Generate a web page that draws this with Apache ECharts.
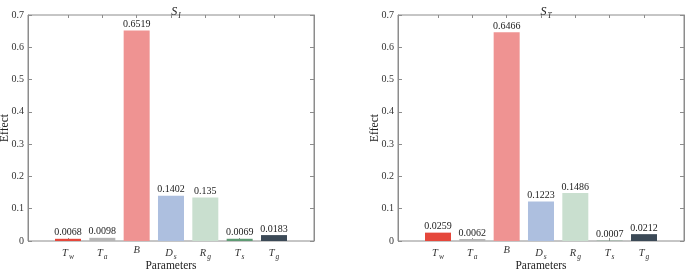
<!DOCTYPE html>
<html>
<head>
<meta charset="utf-8">
<script src="https://cdn.jsdelivr.net/npm/echarts@6/dist/echarts.min.js"></script>
<style>
  html, body { margin: 0; padding: 0; background: #fff; }
  #chart { width: 685px; height: 270px; }
</style>
</head>
<body>
<div id="chart"></div>
<script>
// parameter names: main letter + subscript
var paramMain = ['T', 'T', 'B', 'D', 'R', 'T', 'T'];
var paramSub = ['w', 'a', '', 's', 'g', 's', 'g'];
var barColors = ['#e5473b', '#b5b5b5', '#ef9392', '#adbfdf', '#c9dfcf', '#5f9b74', '#3b4956'];

var firstOrder = [0.0068, 0.0098, 0.6519, 0.1402, 0.135, 0.0069, 0.0183];
var totalOrder = [0.0259, 0.0062, 0.6466, 0.1223, 0.1486, 0.0007, 0.0212];

var serif = "'Liberation Serif', 'Times New Roman', serif";
var frameColor = '#8c8c8c';

var categories = paramMain.map(function (m, i) { return i; });

function catLabel(i) {
    var s = paramSub[i];
    return '{m|' + paramMain[i] + '}' + (s ? '{s|' + s + '}' : '');
}

var chart = echarts.init(document.getElementById('chart'));

// two panels; each has a frame grid (box + y axis) and a bar grid (categories)
var panels = [
    { frameLeft: 28, title: 'I', data: firstOrder },
    { frameLeft: 398, title: 'T', data: totalOrder }
];
var frameWidth = 286;
var step = 34.33;
var inset = 40 - step / 2;

var grids = [], xAxes = [], yAxes = [], series = [], titles = [];

panels.forEach(function (p, k) {
    var gFrame = grids.length;
    grids.push({ left: p.frameLeft, width: frameWidth, top: 15, bottom: 29,
        outerBoundsMode: 'none', containLabel: false,
        show: true, borderColor: frameColor, borderWidth: 1, backgroundColor: 'transparent' });
    var gBars = grids.length;
    grids.push({ left: p.frameLeft + inset, width: step * 7, top: 15, bottom: 29,
        outerBoundsMode: 'none', containLabel: false });

    // frame x axis (just the name)
    xAxes.push({ gridIndex: gFrame, type: 'value', min: 0, max: 1,
        axisLine: { show: false }, axisTick: { show: false }, axisLabel: { show: false },
        splitLine: { show: false },
        name: 'Parameters', nameLocation: 'middle', nameGap: 19, nameMoveOverlap: false,
        nameTextStyle: { fontFamily: serif, fontSize: 11.5, color: '#222' } });
    // bar category axes (bottom + top ticks)
    xAxes.push({ gridIndex: gBars, type: 'category', data: categories, position: 'bottom',
        axisLine: { show: false },
        axisTick: { show: true, inside: true, alignWithLabel: true, length: 3,
            lineStyle: { color: frameColor } },
        axisLabel: { interval: 0, margin: 4, formatter: function (v, i) { return catLabel(i); },
            rich: {
                m: { fontFamily: serif, fontStyle: 'italic', fontSize: 10.5, color: '#333' },
                s: { fontFamily: serif, fontStyle: 'italic', fontSize: 7.5, color: '#333',
                    padding: [8, 0, 0, 1] }
            } } });
    xAxes.push({ gridIndex: gBars, type: 'category', data: categories, position: 'top',
        axisLine: { show: false },
        axisTick: { show: true, inside: true, alignWithLabel: true, length: 3,
            lineStyle: { color: frameColor } },
        axisLabel: { show: false } });

    // frame y axes (left with labels, right ticks only)
    yAxes.push({ gridIndex: gFrame, type: 'value', min: 0, max: 0.7, interval: 0.1,
        position: 'left',
        axisLine: { show: true, lineStyle: { color: frameColor } },
        axisTick: { show: true, inside: true, length: 4, lineStyle: { color: frameColor } },
        axisLabel: { margin: 4, fontFamily: serif, fontSize: 10, color: '#333',
            formatter: function (v) { return String(+v.toFixed(1)); } },
        splitLine: { show: false },
        name: 'Effect', nameLocation: 'middle', nameGap: 17, nameMoveOverlap: false,
        nameTextStyle: { fontFamily: serif, fontSize: 11.5, color: '#222' } });
    yAxes.push({ gridIndex: gFrame, type: 'value', min: 0, max: 0.7, interval: 0.1,
        position: 'right',
        axisLine: { show: true, lineStyle: { color: frameColor } },
        axisTick: { show: true, inside: true, length: 4, lineStyle: { color: frameColor } },
        axisLabel: { show: false }, splitLine: { show: false } });
    var yBars = yAxes.length;
    yAxes.push({ gridIndex: gBars, type: 'value', min: 0, max: 0.7, show: false });

    series.push({
        type: 'bar', xAxisIndex: xAxes.length - 2, yAxisIndex: yBars,
        barWidth: 26,
        data: p.data.map(function (v, i) {
            return { value: v, itemStyle: { color: barColors[i] } };
        }),
        label: { show: true, position: 'top', distance: 1,
            fontFamily: serif, fontSize: 10, color: '#222',
            formatter: function (d) { return String(d.value); } },
        z: 1
    });

    titles.push({
        text: '{m|S}{s|' + p.title + '}',
        left: p.frameLeft + frameWidth / 2, top: -1, textAlign: 'center',
        textStyle: { fontWeight: 'normal', rich: {
            m: { fontFamily: serif, fontStyle: 'italic', fontWeight: 'normal', fontSize: 12, color: '#222' },
            s: { fontFamily: serif, fontStyle: 'italic', fontWeight: 'normal', fontSize: 7.5, color: '#222',
                padding: [8, 0, 0, 1] }
        } }
    });
});

chart.setOption({
    animation: false,
    title: titles,
    grid: grids,
    xAxis: xAxes,
    yAxis: yAxes,
    series: series
});
</script>
</body>
</html>
